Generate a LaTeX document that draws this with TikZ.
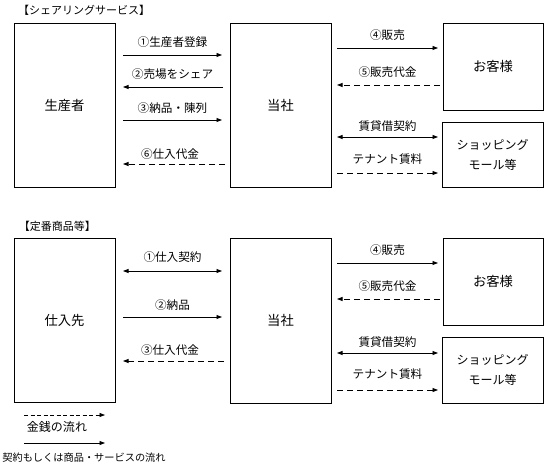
\documentclass[tikz,border=0pt]{standalone}
\usepackage{fontspec}
\setmainfont{Noto Sans CJK JP}
\usetikzlibrary{arrows.meta}
\begin{document}
\begin{tikzpicture}[x=1pt,y=-1pt,
  box/.style={draw=black,line width=0.9pt,rectangle,inner sep=0pt,font=\fontsize{13.3}{15}\selectfont},
  lbl/.style={inner sep=0pt,font=\fontsize{11.6}{13}\selectfont},
  ttl/.style={inner sep=0pt,font=\fontsize{11}{13}\selectfont},
  sarr/.style={line width=0.9pt,-{Triangle[length=5.5pt,width=4pt]}},
  barr/.style={line width=0.9pt,{Triangle[length=5.5pt,width=4pt]}-{Triangle[length=5.5pt,width=4pt]}},
  darr/.style={line width=0.9pt,dash pattern=on 6pt off 4pt,-{Triangle[length=5.5pt,width=4pt]}}
]
\useasboundingbox (0,0) rectangle (546,473);
\fill[white] (0,0) rectangle (546,473);

% ===== Top section =====
\node[ttl] (t1) at (84,10) {【シェアリングサービス】};
\node[box,minimum width=101pt,minimum height=164pt] (prod) at (64.5,105) {生産者};
\node[box,minimum width=101pt,minimum height=164pt] (tosha1) at (280.5,105) {当社};
\node[box,minimum width=100pt,minimum height=87pt] (cust1) at (493,66.5) {お客様};
\node[box,minimum width=101pt,minimum height=65pt,align=center,font=\fontsize{12}{20}\selectfont] (mall1) at (492.5,154.5) {ショッピング\\モール等};

\coordinate (a1s) at (123,55);  \coordinate (a1e) at (222,55);
\coordinate (a2s) at (223,87);  \coordinate (a2e) at (123,87);
\coordinate (a3s) at (123,120); \coordinate (a3e) at (222,120);
\coordinate (a6s) at (225,164); \coordinate (a6e) at (123,164);
\coordinate (a4s) at (337,48);  \coordinate (a4e) at (438,48);
\coordinate (a5s) at (440,85);  \coordinate (a5e) at (337,85);
\coordinate (a7s) at (337,137); \coordinate (a7e) at (438,137);
\coordinate (a8s) at (337,173); \coordinate (a8e) at (438,173);

\draw[sarr] (a1s) -- (a1e);
\draw[sarr] (a2s) -- (a2e);
\draw[sarr] (a3s) -- (a3e);
\draw[darr] (a6s) -- (a6e);
\draw[sarr] (a4s) -- (a4e);
\draw[darr] (a5s) -- (a5e);
\draw[barr] (a7s) -- (a7e);
\draw[darr] (a8s) -- (a8e);

\node[lbl] (l1) at (172.5,42) {①生産者登録};
\node[lbl] (l2) at (172.5,74) {②売場をシェア};
\node[lbl] (l3) at (172.5,108) {③納品・陳列};
\node[lbl] (l6) at (170,154) {⑥仕入代金};
\node[lbl] (l4) at (387.5,35) {④販売};
\node[lbl] (l5) at (387.5,72) {⑤販売代金};
\node[lbl] (l7) at (387.5,126) {賃貸借契約};
\node[lbl] (l8) at (387.5,159) {テナント賃料};

% ===== Bottom section =====
\node[ttl] (t2) at (57.5,226) {【定番商品等】};
\node[box,minimum width=101pt,minimum height=164pt] (supp) at (64.5,320) {仕入先};
\node[box,minimum width=101pt,minimum height=165pt] (tosha2) at (280.5,320.5) {当社};
\node[box,minimum width=100pt,minimum height=87pt] (cust2) at (493,281.5) {お客様};
\node[box,minimum width=101pt,minimum height=66pt,align=center,font=\fontsize{12}{20}\selectfont] (mall2) at (492.5,370) {ショッピング\\モール等};

\coordinate (b1s) at (123,271); \coordinate (b1e) at (222,271);
\coordinate (b2s) at (123,317); \coordinate (b2e) at (222,317);
\coordinate (b3s) at (224,361); \coordinate (b3e) at (123,361);
\coordinate (b4s) at (337,263); \coordinate (b4e) at (438,263);
\coordinate (b5s) at (440,299); \coordinate (b5e) at (337,299);
\coordinate (b7s) at (337,353); \coordinate (b7e) at (438,353);
\coordinate (b8s) at (337,390); \coordinate (b8e) at (438,390);

\draw[barr] (b1s) -- (b1e);
\draw[sarr] (b2s) -- (b2e);
\draw[darr] (b3s) -- (b3e);
\draw[sarr] (b4s) -- (b4e);
\draw[darr] (b5s) -- (b5e);
\draw[barr] (b7s) -- (b7e);
\draw[darr] (b8s) -- (b8e);

\node[lbl] (m1) at (172.5,257) {①仕入契約};
\node[lbl] (m2) at (172.5,305) {②納品};
\node[lbl] (m3) at (170,350) {③仕入代金};
\node[lbl] (m4) at (387.5,250) {④販売};
\node[lbl] (m5) at (387.5,286) {⑤販売代金};
\node[lbl] (m7) at (387.5,342) {賃貸借契約};
\node[lbl] (m8) at (387.5,374) {テナント賃料};

% ===== Legend =====
\coordinate (g1s) at (24,415); \coordinate (g1e) at (105,415);
\coordinate (g2s) at (24,443); \coordinate (g2e) at (105,443);
\draw[darr,line width=0.7pt,dash pattern=on 4pt off 2.5pt] (g1s) -- (g1e);
\draw[sarr] (g2s) -- (g2e);
\node[lbl,font=\fontsize{12}{14}\selectfont] (g1) at (57,427) {金銭の流れ};
\node[lbl,font=\fontsize{10.2}{12}\selectfont] (g2) at (84,458) {契約もしくは商品・サービスの流れ};
\end{tikzpicture}
\end{document}
